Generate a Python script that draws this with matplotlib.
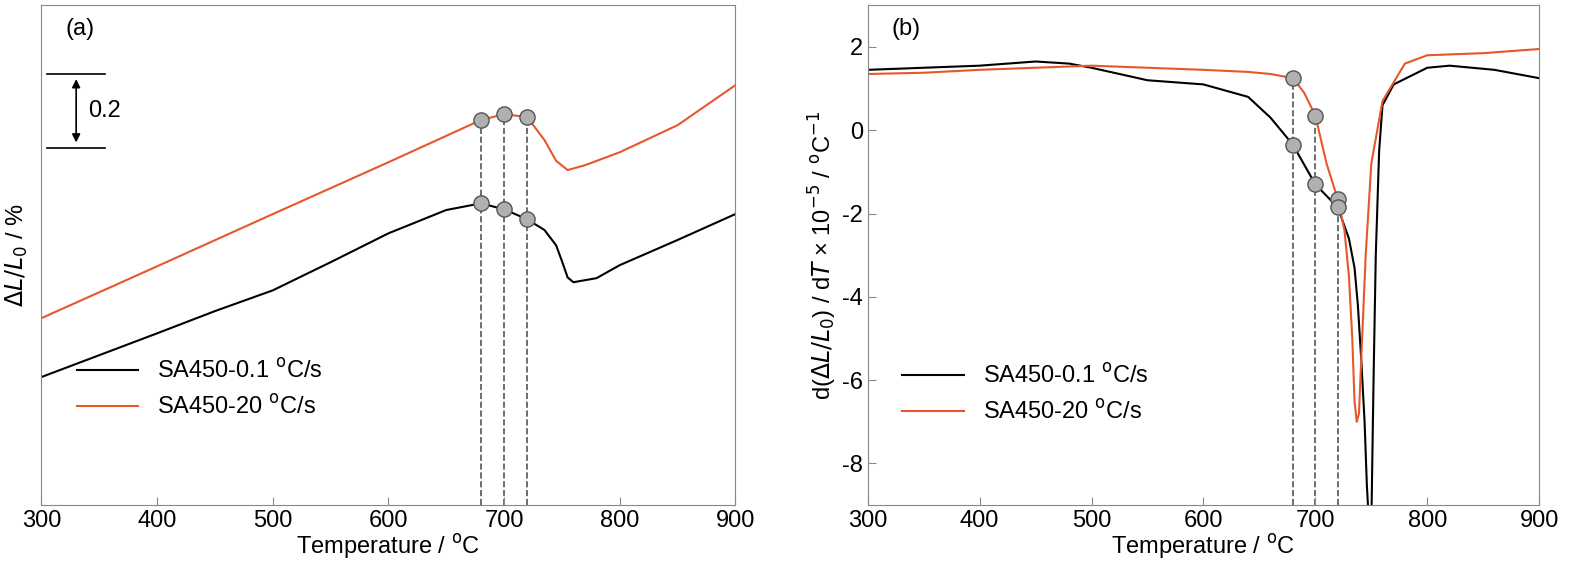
import matplotlib.pyplot as plt

plt.rcParams["font.family"] = ["Liberation Sans", "DejaVu Sans"]
plt.rcParams["font.size"] = 17
plt.rcParams["axes.unicode_minus"] = False

ORANGE = "#e8572a"

# panel (a): relative dilatation (arbitrary offset)
t_a_blk = [300, 350, 400, 450, 500, 550, 600, 650, 680, 700, 720, 735, 745, 750, 755, 760, 780, 800, 850, 900]
a_blk = [0.346, 0.405, 0.464, 0.524, 0.580, 0.656, 0.734, 0.797, 0.815, 0.799, 0.772, 0.743, 0.702, 0.660, 0.615, 0.602, 0.613, 0.648, 0.716, 0.786]
t_a_org = [300, 400, 500, 600, 680, 700, 720, 735, 745, 755, 770, 800, 850, 900]
a_org = [0.505, 0.645, 0.786, 0.926, 1.040, 1.056, 1.048, 0.986, 0.930, 0.905, 0.918, 0.953, 1.026, 1.134]
a_pts_t = [680, 700, 720]
a_pts_blk = [0.815, 0.799, 0.772]
a_pts_org = [1.040, 1.056, 1.048]

# panel (b): derivative, 1e-5 / degC
t_b_blk = [300, 350, 400, 450, 480, 500, 550, 600, 640, 660, 680, 700, 720, 730, 735, 738, 741, 744, 746, 748, 750, 752, 754, 757, 760, 770, 800, 820, 860, 900]
b_blk = [1.45, 1.5, 1.55, 1.65, 1.6, 1.5, 1.2, 1.1, 0.8, 0.3, -0.35, -1.3, -1.85, -2.6, -3.3, -4.2, -5.5, -7.0, -8.5, -9.5, -9.5, -6.0, -3.0, -0.5, 0.6, 1.1, 1.5, 1.55, 1.45, 1.25]
t_b_org = [300, 350, 400, 450, 500, 550, 600, 640, 660, 680, 690, 700, 710, 720, 726, 730, 733, 735, 737, 739, 741, 745, 750, 760, 780, 800, 850, 900]
b_org = [1.35, 1.38, 1.45, 1.5, 1.55, 1.5, 1.45, 1.4, 1.35, 1.25, 0.9, 0.35, -0.8, -1.65, -2.4, -3.5, -5.0, -6.5, -7.0, -6.8, -5.5, -3.0, -0.8, 0.7, 1.6, 1.8, 1.85, 1.95]
b_pts_t = [680, 700, 720]
b_pts_org = [1.25, 0.35, -1.65]
b_pts_blk = [-0.35, -1.3, -1.85]

labels = ["SA450-0.1 $^{\\mathrm{o}}$C/s", "SA450-20 $^{\\mathrm{o}}$C/s"]

fig = plt.figure(figsize=(15.95, 5.86), dpi=100)
ax1 = fig.add_axes([0.026, 0.138, 0.435, 0.853])
ax2 = fig.add_axes([0.544, 0.138, 0.421, 0.853])

for ax in (ax1, ax2):
    for s in ax.spines.values():
        s.set_color("#888888")
    ax.set_xlim(300, 900)
    ax.set_xticks(range(300, 901, 100))
    ax.tick_params(direction="in", length=6, color="#888888")
    ax.set_xlabel("Temperature / $^{\\mathrm{o}}$C", labelpad=0)

# (a)
ax1.plot(t_a_blk, a_blk, color="black", lw=1.5, label=labels[0])
ax1.plot(t_a_org, a_org, color=ORANGE, lw=1.5, label=labels[1])
ax1.set_ylim(0, 1.35)
ax1.set_yticks([])
for t, y in zip(a_pts_t, a_pts_org):
    ax1.plot([t, t], [0, y], ls="--", color="#555555", lw=1.2, zorder=1)
ax1.scatter(a_pts_t, a_pts_org, s=120, color="#b0b0b0", edgecolor="#555555", zorder=5)
ax1.scatter(a_pts_t, a_pts_blk, s=120, color="#b0b0b0", edgecolor="#555555", zorder=5)
ax1.set_ylabel("$\\Delta L/L_0$ / %", labelpad=8)
ax1.text(0.035, 0.975, "(a)", transform=ax1.transAxes, va="top")
ax1.plot([305, 355], [1.165, 1.165], color="black", lw=1.2)
ax1.plot([305, 355], [0.965, 0.965], color="black", lw=1.2)
ax1.annotate("", xy=(330, 1.158), xytext=(330, 0.972),
             arrowprops=dict(arrowstyle="<|-|>", color="black", lw=1.2, mutation_scale=12))
ax1.text(340, 1.065, "0.2", va="center")
ax1.legend(loc="lower left", bbox_to_anchor=(0.02, 0.13), frameon=False, handlelength=2.6)

# (b)
ax2.plot(t_b_blk, b_blk, color="black", lw=1.5, label=labels[0])
ax2.plot(t_b_org, b_org, color=ORANGE, lw=1.5, label=labels[1])
ax2.set_ylim(-9, 3)
ax2.set_yticks(range(-8, 3, 2))
for t, y in zip(b_pts_t, b_pts_org):
    ax2.plot([t, t], [-9, y], ls="--", color="#555555", lw=1.2, zorder=1)
ax2.scatter(b_pts_t, b_pts_org, s=120, color="#b0b0b0", edgecolor="#555555", zorder=5)
ax2.scatter(b_pts_t, b_pts_blk, s=120, color="#b0b0b0", edgecolor="#555555", zorder=5)
ax2.set_ylabel("d($\\Delta L/L_0$) / d$T$ × 10$^{-5}$ / $^{\\mathrm{o}}$C$^{-1}$", labelpad=2)
ax2.text(0.035, 0.975, "(b)", transform=ax2.transAxes, va="top")
ax2.legend(loc="lower left", bbox_to_anchor=(0.02, 0.12), frameon=False, handlelength=2.6)

fig.savefig("out.png", dpi=100)
